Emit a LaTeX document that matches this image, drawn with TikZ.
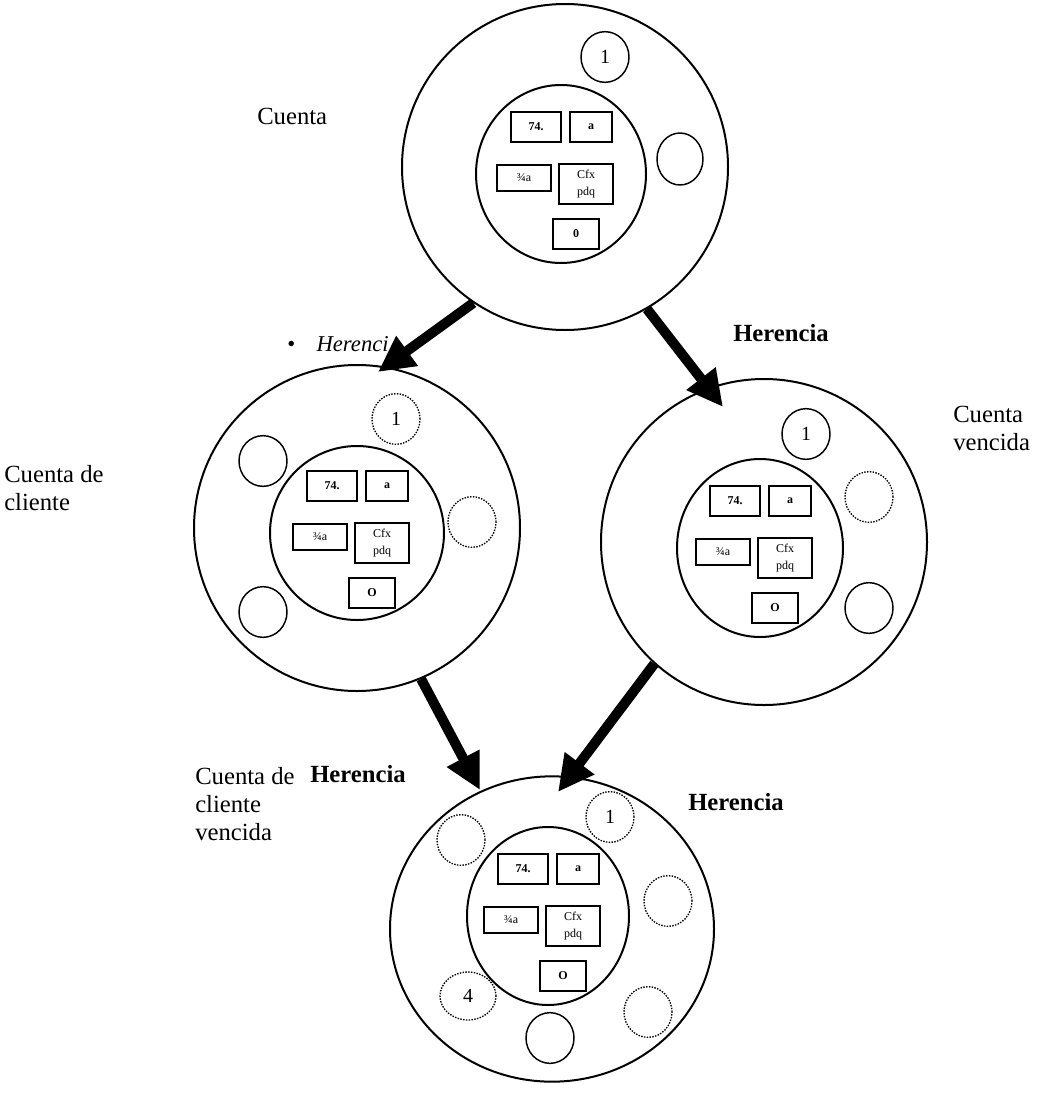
\documentclass[tikz,border=0pt]{standalone}
\usepackage{fontspec}
\setmainfont{Liberation Serif}
\usetikzlibrary{shapes.geometric,arrows.meta}
\begin{document}
\begin{tikzpicture}[x=0.75pt,y=-0.75pt,
  outerring/.style={draw, ellipse, line width=1.5pt, inner sep=0pt, minimum width=244.5pt, minimum height=244.5pt},
  innerring/.style={draw, ellipse, line width=1.5pt, inner sep=0pt},
  slot/.style={draw, rectangle, line width=1.3pt, inner sep=0pt, minimum height=22pt, font=\fontsize{9pt}{8pt}\selectfont},
  hole/.style={draw, ellipse, line width=1.1pt, inner sep=0pt, minimum width=36pt, minimum height=38pt, font=\fontsize{15pt}{15pt}\selectfont},
  dothole/.style={hole, densely dotted, line width=1pt},
  lbl/.style={anchor=base west, inner sep=0pt, align=left, font=\fontsize{18.5pt}{21pt}\selectfont},
  inherit/.style={line width=7.5pt, -{Triangle[length=27pt, width=26pt]}},
  pics/core/.style n args={3}{code={
    \node[innerring, minimum width=#1, minimum height=#2] (-ring) at (0,0) {};
    \node[slot, minimum width=38pt] (-n74) at (-25,-47) {\textbf{74.}};
    \node[slot, minimum width=32pt] (-a) at (30,-47) {\textbf{a}};
    \node[slot, minimum width=40.5pt, minimum height=20pt] (-frac) at (-37,4) {¾a};
    \node[slot, minimum width=40.5pt, minimum height=30pt, align=center] (-cfx) at (25,10) {Cfx\\[5pt]pdq};
    \node[slot, minimum width=34pt] (-o) at (15,60) {\textbf{#3}};
  }}
]
\useasboundingbox (0,0) rectangle (1042,1103);

% --- Cuenta ---
\node[outerring] (c1) at (565,167) {};
\pic (k1) at (561,174) {core={127.5pt}{133.5pt}{0}};
\node[hole] (c1h1) at (605,57) {1};
\node[hole, minimum width=34.5pt, minimum height=39pt] (c1h2) at (680,159) {};

% --- Cuenta de cliente ---
\node[outerring] (c2) at (357,528) {};
\pic (k2) at (357,533) {core={130.5pt}{130.5pt}{O}};
\node[dothole] (c2h1) at (396,419) {1};
\node[hole] (c2h2) at (263,461) {};
\node[dothole] (c2h3) at (472,522) {};
\node[hole] (c2h4) at (263,612) {};

% --- Cuenta vencida ---
\node[outerring] (c3) at (764,542) {};
\pic (k3) at (760,548) {core={124.5pt}{133.5pt}{O}};
\node[hole] (c3h1) at (806,434) {1};
\node[dothole] (c3h2) at (869,497) {};
\node[hole] (c3h3) at (869,608) {};

% --- Cuenta de cliente vencida ---
\node[outerring, minimum width=243pt, minimum height=229pt] (c4) at (552,929) {};
\pic (k4) at (548,916) {core={121.5pt}{133.5pt}{O}};
\node[dothole] (c4h1) at (610,817) {1};
\node[dothole] (c4h2) at (461,840) {};
\node[dothole] (c4h3) at (668,901) {};
\node[dothole, minimum width=42pt, minimum height=36pt] (c4h4) at (468,996) {4};
\node[hole] (c4h5) at (550,1038) {};
\node[dothole] (c4h6) at (648,1012) {};

% --- inheritance arrows ---
\coordinate (t1) at (378,372);
\coordinate (t2) at (723,407);
\coordinate (t3) at (480,790);
\coordinate (t4) at (558,792);
\draw[inherit] (c1.236) -- (t1);
\draw[inherit] (c1.300) -- (t2);
\draw[inherit] (c2.293) -- (t3);
\draw[inherit] (c3.228) -- (t4);

% --- labels ---
\node[lbl] (l1) at (257,124) {Cuenta};
\node[lbl, font=\fontsize{17pt}{21pt}\selectfont] (l2) at (287,351) {\textbullet\hspace{16pt}\textit{Herenci}};
\node[lbl] (l3) at (733,341) {\textbf{Herencia}};
\node[lbl] (l4) at (953,450) {Cuenta\\vencida};
\node[lbl] (l5) at (4,510) {Cuenta de\\cliente};
\node[lbl] (l6) at (310,782) {\textbf{Herencia}};
\node[lbl] (l7) at (688,810) {\textbf{Herencia}};
\node[lbl] (l8) at (195,840) {Cuenta de\\cliente\\vencida};
\end{tikzpicture}
\end{document}
